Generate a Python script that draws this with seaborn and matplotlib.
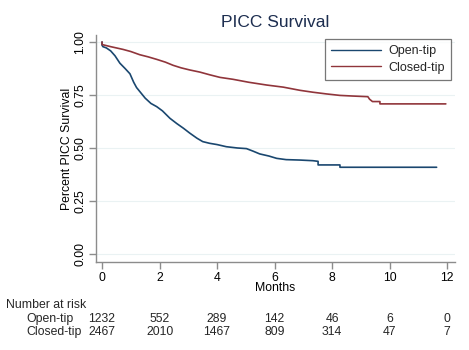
import numpy as np
import pandas as pd
import matplotlib
matplotlib.use("Agg")
import matplotlib.pyplot as plt
import seaborn as sns
from matplotlib.lines import Line2D

# ---- data (Kaplan-Meier knots) ----
open_t = [0, 0.0, 0.03, 0.15, 0.3, 0.45, 0.62, 0.8, 0.97, 1.1, 1.2, 1.35, 1.5, 1.7,
          1.9, 2.1, 2.36, 2.6, 2.83, 3.05, 3.3, 3.5, 3.74, 4.0, 4.32, 4.7, 5.02,
          5.25, 5.48, 5.8, 6.07, 6.4, 6.88, 7.33, 7.51, 7.51, 8.27, 8.27, 11.63]
open_s = [1.0, 0.985, 0.978, 0.972, 0.958, 0.935, 0.90, 0.875, 0.85, 0.81, 0.785,
          0.76, 0.735, 0.71, 0.695, 0.675, 0.64, 0.615, 0.593, 0.57, 0.546, 0.53,
          0.522, 0.516, 0.506, 0.500, 0.497, 0.485, 0.472, 0.462, 0.451, 0.445,
          0.443, 0.440, 0.437, 0.420, 0.420, 0.409, 0.409]
closed_t = [0, 0.0, 0.3, 0.73, 1.0, 1.31, 1.6, 1.9, 2.2, 2.47, 2.75, 3.05, 3.4, 3.75,
            4.1, 4.55, 5.1, 5.72, 6.3, 6.88, 7.33, 7.8, 8.27, 8.72, 9.24, 9.3, 9.4,
            9.66, 9.66, 11.95]
closed_s = [1.0, 0.988, 0.978, 0.965, 0.955, 0.94, 0.93, 0.918, 0.905, 0.89, 0.878,
            0.868, 0.858, 0.845, 0.833, 0.824, 0.81, 0.797, 0.787, 0.772, 0.763,
            0.755, 0.748, 0.745, 0.742, 0.730, 0.719, 0.719, 0.708, 0.708]

groups = ["Open-tip", "Closed-tip"]
risk_times = [0, 2, 4, 6, 8, 10, 12]
risk_open = [1232, 552, 289, 142, 46, 6, 0]
risk_closed = [2467, 2010, 1467, 809, 314, 47, 7]
y_ticks = [0.0, 0.25, 0.5, 0.75, 1.0]
y_labels = ["0.00", "0.25", "0.50", "0.75", "1.00"]

df = pd.concat([
    pd.DataFrame({"Months": open_t, "Survival": open_s, "Group": groups[0]}),
    pd.DataFrame({"Months": closed_t, "Survival": closed_s, "Group": groups[1]}),
], ignore_index=True)

sns.set_style("white")
plt.rcParams["font.family"] = ["Liberation Sans", "DejaVu Sans"]

palette = {"Open-tip": "#1a476f", "Closed-tip": "#90353b"}

fig = plt.figure(figsize=(4.69, 3.5), dpi=100)
fig.patch.set_facecolor("white")
ax = fig.add_axes([0.2047, 0.2514, 0.7655, 0.6486])

sns.lineplot(data=df, x="Months", y="Survival", hue="Group", palette=palette,
             linewidth=1.2, ax=ax, legend=False, estimator=None, sort=False)

ax.set_xlim(-0.21, 12.27)
ax.set_ylim(-0.038, 1.033)
ax.set_xticks(risk_times)
ax.set_yticks(y_ticks)
ax.set_yticklabels(y_labels, rotation=90, va="center")
for y in y_ticks:
    ax.axhline(y, color="#eaf2f3", lw=0.8, zorder=0)

for s in ["top", "right"]:
    ax.spines[s].set_visible(False)
for s in ["left", "bottom"]:
    ax.spines[s].set_color("#8c8c8c")
    ax.spines[s].set_linewidth(1.0)
ax.tick_params(axis="both", which="both", length=5, width=1.0, color="#8c8c8c",
               labelsize=8.8, labelcolor="black", direction="out", pad=2,
               left=True, bottom=True)

ax.set_xlabel("Months", fontsize=8.8, labelpad=-1, color="black")
ax.set_ylabel("Percent PICC Survival", fontsize=8.8, labelpad=1, color="black")
ax.set_title("PICC Survival", fontsize=12.5, color="#1c2d4f", pad=6)

handles = [Line2D([0], [0], color=palette[g], lw=1.0) for g in groups]
leg = ax.legend(handles, groups, loc="upper right", bbox_to_anchor=(0.989, 0.982),
                borderaxespad=0, fontsize=9.0, frameon=True, fancybox=False,
                handlelength=4.0, handletextpad=0.6, borderpad=0.5,
                labelspacing=0.35, edgecolor="#555555")
leg.get_frame().set_linewidth(0.9)

# Number at risk table
trans = ax.get_xaxis_transform()
fig.text(6 / 469, 1 - 305 / 350, "Number at risk", fontsize=8.8, va="center", ha="left")
fig.text(26 / 469, 1 - 319 / 350, "Open-tip", fontsize=8.8, va="center", ha="left")
fig.text(26 / 469, 1 - 332 / 350, "Closed-tip", fontsize=8.8, va="center", ha="left")
y_open = (1 - 319 / 350 - 0.2514) / 0.6486
y_closed = (1 - 332 / 350 - 0.2514) / 0.6486
for t, a, b in zip(risk_times, risk_open, risk_closed):
    ax.text(t, y_open, str(a), transform=trans, fontsize=8.8, ha="center",
            va="center", clip_on=False)
    ax.text(t, y_closed, str(b), transform=trans, fontsize=8.8, ha="center",
            va="center", clip_on=False)

fig.savefig("out.png", dpi=100, facecolor="white")
